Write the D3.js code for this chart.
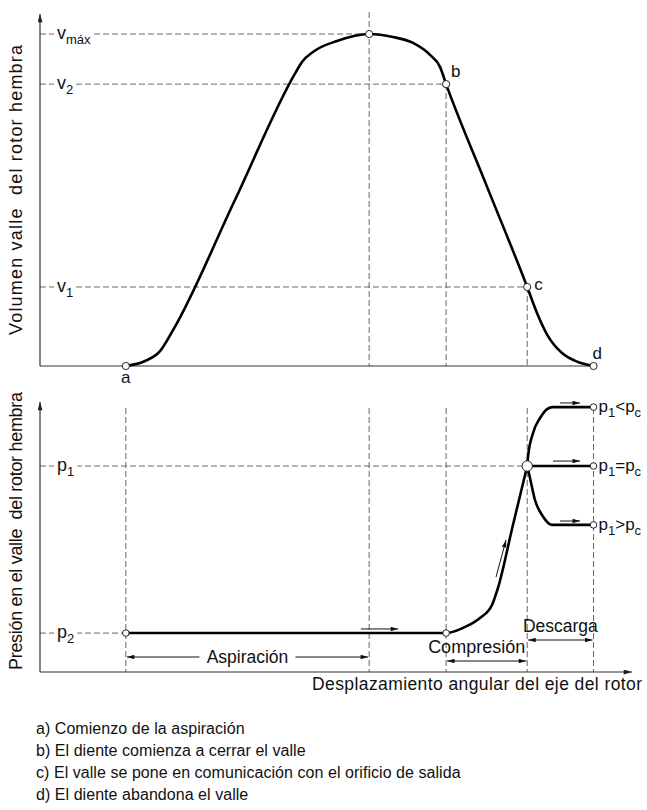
<!DOCTYPE html>
<html>
<head>
<meta charset="utf-8">
<script src="https://cdn.jsdelivr.net/npm/d3@7"></script>
<style>
  body { margin: 0; background: #fff; }
  svg { display: block; }
  text { font-family: "Liberation Sans", Arial, sans-serif; fill: #111; }
</style>
</head>
<body>
<div id="chart"></div>
<script>
// x = angular displacement (% of the drawn span), volume relative to v max, pressure relative to p1
const pointNames = ["a", "b", "c", "d"];
const pointPos = [14.5, 68.6, 82.3, 93.5];
const peakPos = 55.6;

const volLevels = ["máx", "2", "1"];
const volValues = [1, 0.849, 0.238];
const presLevels = ["1", "2"];
const presValues = [1, 0.189];

// volume of the female rotor lobe
const volX = [14.5, 17.74, 20.27, 22.47, 32.85, 43.24, 44.26, 46.11, 50.17, 55.6, 59.63, 63.01, 65.88, 67.57, 68.6, 75.42, 82.3, 83.95, 85.81, 88.18, 90.88, 93.5];
const volY = [0, 0.015, 0.045, 0.108, 0.497, 0.886, 0.916, 0.946, 0.979, 1, 0.991, 0.973, 0.937, 0.901, 0.849, 0.544, 0.238, 0.160, 0.090, 0.039, 0.012, 0];

// pressure in the lobe
const presX = [14.5, 68.6, 71.45, 74.32, 76.35, 77.36, 79.81, 82.3];
const presY = [0.189, 0.189, 0.214, 0.262, 0.325, 0.408, 0.704, 1];
const upX = [82.3, 82.43, 83.28, 84.46, 86.49, 93.5];
const upY = [1, 1.044, 1.160, 1.233, 1.286, 1.286];
const midX = [82.3, 93.5];
const midY = [1, 1];
const lowX = [82.3, 82.77, 83.61, 84.80, 86.49, 93.5];
const lowY = [1, 0.942, 0.835, 0.762, 0.714, 0.714];

// flow arrows [x1, p1, x2, p2]
const flowArrows = [
  [54.2, 0.209, 60.5, 0.209],
  [77.03, 0.461, 78.72, 0.641],
  [87.84, 1.306, 91.22, 1.306],
  [86.66, 1.024, 91.22, 1.024],
  [87.84, 0.733, 91.22, 0.733]
];
const caseOps = ["<", "=", ">"];
const caseValues = [1.286, 1, 0.714];

const notes = [
  "a) Comienzo de la aspiración",
  "b) El diente comienza a cerrar el valle",
  "c) El valle se pone en comunicación con el orificio de salida",
  "d) El diente abandona el valle"
];

const width = 647, height = 810;
const svg = d3.select("#chart").append("svg")
  .attr("width", width)
  .attr("height", height);

const x = d3.scaleLinear().domain([0, 100]).range([40, 632]);
const yV = d3.scaleLinear().domain([0, 1]).range([366, 34]);
const yP = d3.scaleLinear().domain([0, 1]).range([672, 466]);

const defs = svg.append("defs");
defs.append("marker")
  .attr("id", "head")
  .attr("viewBox", "0 0 10 6")
  .attr("refX", 10).attr("refY", 3)
  .attr("markerWidth", 8).attr("markerHeight", 4.5)
  .attr("markerUnits", "userSpaceOnUse")
  .attr("orient", "auto-start-reverse")
  .append("path").attr("d", "M0,0L10,3L0,6Z").attr("fill", "#111");
defs.append("marker")
  .attr("id", "axishead")
  .attr("viewBox", "0 0 10 6")
  .attr("refX", 10).attr("refY", 3)
  .attr("markerWidth", 9).attr("markerHeight", 5)
  .attr("markerUnits", "userSpaceOnUse")
  .attr("orient", "auto")
  .append("path").attr("d", "M0,0L10,3L0,6Z").attr("fill", "#222");

const dash = "6,3";
const guide = svg.append("g")
  .attr("stroke", "#666")
  .attr("stroke-width", 1)
  .attr("stroke-dasharray", dash)
  .attr("fill", "none");

// --- guide lines, top chart
guide.append("line")
  .attr("x1", x(peakPos)).attr("x2", x(peakPos))
  .attr("y1", 12).attr("y2", yV(0));
[pointPos[1], pointPos[2]].forEach((p, i) => {
  guide.append("line")
    .attr("x1", x(p)).attr("x2", x(p))
    .attr("y1", yV(volValues[i + 1])).attr("y2", yV(0));
});
const volEnds = [peakPos, pointPos[1], pointPos[2]];
volValues.forEach((v, i) => {
  guide.append("line")
    .attr("x1", x(0)).attr("x2", x(volEnds[i]))
    .attr("y1", yV(v)).attr("y2", yV(v));
});

// --- guide lines, bottom chart
[pointPos[0], peakPos, pointPos[1], pointPos[2], pointPos[3]].forEach(p => {
  guide.append("line")
    .attr("x1", x(p)).attr("x2", x(p))
    .attr("y1", 408).attr("y2", yP(0));
});
const presEnds = [pointPos[2], pointPos[0]];
presValues.forEach((v, i) => {
  guide.append("line")
    .attr("x1", x(0)).attr("x2", x(presEnds[i]))
    .attr("y1", yP(v)).attr("y2", yP(v));
});

// --- axes
const axes = svg.append("g").attr("stroke", "#333").attr("stroke-width", 1.2);
axes.append("line")
  .attr("x1", x(0)).attr("x2", x(0))
  .attr("y1", yV(0)).attr("y2", 14)
  .attr("marker-end", "url(#axishead)");
axes.append("line")
  .attr("x1", x(0)).attr("x2", x(94.1))
  .attr("y1", yV(0)).attr("y2", yV(0));
axes.append("line")
  .attr("x1", x(0)).attr("x2", x(0))
  .attr("y1", yP(0)).attr("y2", 402)
  .attr("marker-end", "url(#axishead)");
axes.append("line")
  .attr("x1", x(0)).attr("x2", x(100))
  .attr("y1", yP(0)).attr("y2", yP(0))
  .attr("marker-end", "url(#axishead)");

// --- level labels with white backing
function levelLabel(yPos, letter, sub) {
  const g = svg.append("g");
  const t = g.append("text")
    .attr("x", 57)
    .attr("y", yPos + 5)
    .style("font-size", "18px");
  t.append("tspan").text(letter);
  t.append("tspan").attr("dy", 5).style("font-size", "13px").text(sub);
  const bb = t.node().getBBox();
  g.insert("rect", "text")
    .attr("x", bb.x - 3).attr("y", yPos - 3)
    .attr("width", bb.width + 6).attr("height", 6)
    .attr("fill", "#fff");
}
volLevels.forEach((s, i) => levelLabel(yV(volValues[i]), "v", s));
presLevels.forEach((s, i) => levelLabel(yP(presValues[i]), "p", s));

// --- curves
const line = d3.line().curve(d3.curveMonotoneX);
const curves = svg.append("g")
  .attr("fill", "none")
  .attr("stroke", "#000")
  .attr("stroke-width", 2.6)
  .attr("stroke-linejoin", "round");

curves.append("path").attr("d", line(volX.map((v, i) => [x(v), yV(volY[i])])));
curves.append("path").attr("d", line(presX.map((v, i) => [x(v), yP(presY[i])])));
[[upX, upY], [midX, midY], [lowX, lowY]].forEach(([xs, ys]) => {
  curves.append("path").attr("d", line(xs.map((v, i) => [x(v), yP(ys[i])])));
});

// --- flow arrows
svg.append("g")
  .selectAll("line")
  .data(flowArrows)
  .join("line")
  .attr("x1", d => x(d[0])).attr("y1", d => yP(d[1]))
  .attr("x2", d => x(d[2])).attr("y2", d => yP(d[3]))
  .attr("stroke", "#111")
  .attr("stroke-width", 1)
  .attr("marker-end", "url(#head)");

// --- open points
const volPts = [[pointPos[0], 0], [peakPos, 1], [pointPos[1], volValues[1]], [pointPos[2], volValues[2]], [pointPos[3], 0]];
const presPts = [[pointPos[0], presValues[1]], [pointPos[1], presValues[1]]]
  .concat(caseValues.map(v => [pointPos[3], v]));
const pts = svg.append("g").attr("fill", "#fff").attr("stroke", "#222").attr("stroke-width", 1);
volPts.forEach(p => pts.append("circle").attr("cx", x(p[0])).attr("cy", yV(p[1])).attr("r", 3.6));
presPts.forEach(p => pts.append("circle").attr("cx", x(p[0])).attr("cy", yP(p[1])).attr("r", 3.3));
pts.append("circle").attr("cx", x(pointPos[2])).attr("cy", yP(1)).attr("r", 5.2);

// --- point letters
const letterPos = [[0, 17, "middle"], [5, -7, "start"], [7, 3, "start"], [-1, -7, "start"]];
const volAt = [0, volValues[1], volValues[2], 0];
pointNames.forEach((n, i) => {
  svg.append("text")
    .attr("x", x(pointPos[i]) + letterPos[i][0])
    .attr("y", yV(volAt[i]) + letterPos[i][1])
    .attr("text-anchor", letterPos[i][2])
    .style("font-size", "17px")
    .text(n);
});

// --- outcome labels on the right
caseOps.forEach((op, i) => {
  const t = svg.append("text")
    .attr("x", x(pointPos[3]) + 5)
    .attr("y", yP(caseValues[i]) + 5)
    .style("font-size", "17px");
  t.append("tspan").text("p");
  t.append("tspan").attr("dy", 5).style("font-size", "13px").text("1");
  t.append("tspan").attr("dy", -5).text(op + "p");
  t.append("tspan").attr("dy", 5).style("font-size", "13px").text("c");
});

// --- phase spans
function span(x1, x2, yPos, label, labelY, gap, size, shift) {
  const g = svg.append("g");
  const mid = (x(x1) + x(x2)) / 2;
  const a = x(x1) + 1, b = x(x2) - 1;
  const lineAttrs = sel => sel.attr("stroke", "#111").attr("stroke-width", 1);
  if (gap) {
    g.append("line").attr("x1", mid - gap).attr("x2", a).attr("y1", yPos).attr("y2", yPos)
      .call(lineAttrs).attr("marker-end", "url(#head)");
    g.append("line").attr("x1", mid + gap).attr("x2", b).attr("y1", yPos).attr("y2", yPos)
      .call(lineAttrs).attr("marker-end", "url(#head)");
  } else {
    g.append("line").attr("x1", a).attr("x2", b).attr("y1", yPos).attr("y2", yPos)
      .call(lineAttrs)
      .attr("marker-start", "url(#head)")
      .attr("marker-end", "url(#head)");
  }
  g.append("text")
    .attr("x", mid + shift)
    .attr("y", labelY)
    .attr("text-anchor", "middle")
    .style("font-size", size + "px")
    .text(label);
}
span(pointPos[0], peakPos, yP(0) - 15, "Aspiración", yP(0) - 9, 48, 17.5, 0);
span(pointPos[1], pointPos[2], yP(0) - 11, "Compresión", yP(0) - 19, 0, 18, -10);
span(pointPos[2], pointPos[3], yP(0) - 32, "Descarga", yP(0) - 40, 0, 17.5, 0);

// --- axis titles
svg.append("text")
  .attr("transform", `translate(22,190) rotate(-90)`)
  .attr("text-anchor", "middle")
  .attr("textLength", 290)
  .attr("lengthAdjust", "spacing")
  .style("font-size", "18px")
  .style("white-space", "pre")
  .text("Volumen valle  del rotor hembra");
svg.append("text")
  .attr("transform", `translate(22,531) rotate(-90)`)
  .attr("text-anchor", "middle")
  .attr("textLength", 278)
  .attr("lengthAdjust", "spacing")
  .style("font-size", "18px")
  .style("white-space", "pre")
  .text("Presión en el valle  del rotor hembra");
svg.append("text")
  .attr("x", 312)
  .attr("y", 690)
  .attr("textLength", 330)
  .attr("lengthAdjust", "spacing")
  .style("font-size", "17.5px")
  .text("Desplazamiento angular del eje del rotor");

// --- notes
svg.append("g")
  .selectAll("text")
  .data(notes)
  .join("text")
  .attr("x", 36)
  .attr("y", (d, i) => 734 + i * 22)
  .style("font-size", "16px")
  .style("letter-spacing", "0.05px")
  .text(d => d);
</script>
</body>
</html>
